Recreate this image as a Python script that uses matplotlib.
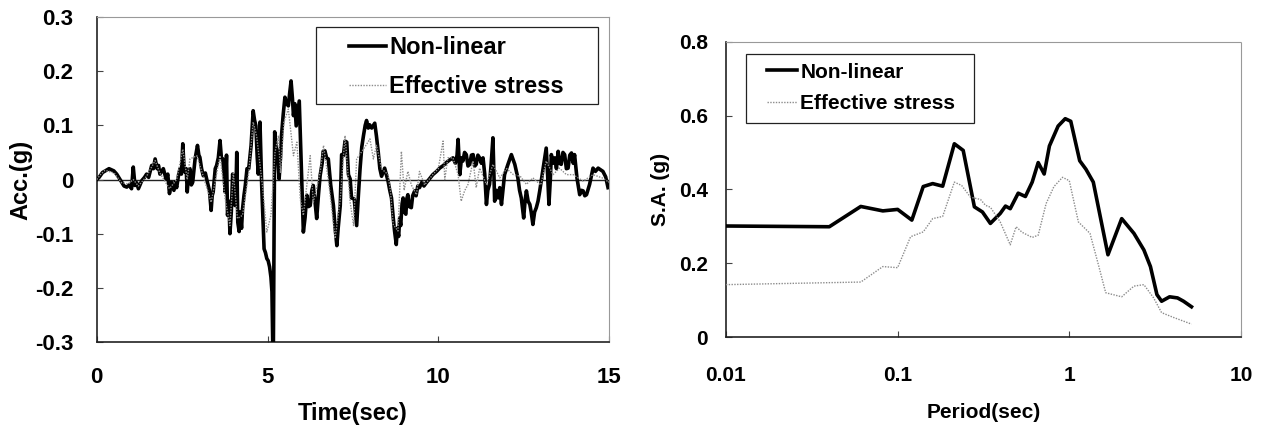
import matplotlib
matplotlib.use("Agg")
import matplotlib.pyplot as plt
from matplotlib.patches import Rectangle
from matplotlib.ticker import NullLocator

plt.rcParams["font.family"] = ["Liberation Sans", "DejaVu Sans"]
plt.rcParams["font.weight"] = "bold"

# acceleration time history, non-linear analysis (time in sec, acceleration in g)
time_nl = [0.00, 0.07, 0.17, 0.36, 0.50, 0.585, 0.73, 0.80, 0.88, 0.95,
           1.02, 1.07, 1.12, 1.17, 1.22, 1.32, 1.40, 1.46, 1.52, 1.61,
           1.66, 1.71, 1.77, 1.81, 1.85, 1.95, 2.03, 2.08, 2.13, 2.19,
           2.26, 2.30, 2.34, 2.40, 2.44, 2.48, 2.52, 2.55, 2.58, 2.62,
           2.65, 2.69, 2.73, 2.77, 2.81, 2.85, 2.88, 2.95, 2.99, 3.02,
           3.07, 3.12, 3.18, 3.24, 3.30, 3.35, 3.38, 3.41, 3.47, 3.51,
           3.56, 3.61, 3.65, 3.69, 3.73, 3.76, 3.80, 3.83, 3.87, 3.90,
           3.94, 3.98, 4.01, 4.05, 4.08, 4.10, 4.13, 4.17, 4.20, 4.24,
           4.27, 4.31, 4.35, 4.40, 4.45, 4.52, 4.58, 4.62, 4.66, 4.70,
           4.73, 4.78, 4.83, 4.90, 4.94, 4.98, 5.02, 5.06, 5.10, 5.13,
           5.16, 5.17, 5.21, 5.25, 5.28, 5.34, 5.38, 5.41, 5.46, 5.51,
           5.56, 5.61, 5.65, 5.69, 5.73, 5.76, 5.80, 5.84, 5.88, 5.93,
           5.98, 6.05, 6.10, 6.15, 6.20, 6.25, 6.30, 6.34, 6.39, 6.44,
           6.49, 6.54, 6.60, 6.63, 6.68, 6.73, 6.78, 6.85, 6.93, 6.98,
           7.03, 7.07, 7.13, 7.17, 7.22, 7.27, 7.32, 7.37, 7.42, 7.46,
           7.54, 7.61, 7.66, 7.71, 7.76, 7.81, 7.86, 7.90, 7.95, 7.99,
           8.05, 8.14, 8.19, 8.24, 8.29, 8.34, 8.43, 8.53, 8.58, 8.63,
           8.68, 8.72, 8.77, 8.80, 8.84, 8.87, 8.90, 8.94, 8.97, 9.01,
           9.05, 9.08, 9.11, 9.15, 9.21, 9.25, 9.31, 9.35, 9.40, 9.45,
           9.52, 9.58, 9.65, 9.75, 9.84, 9.95, 10.04, 10.15, 10.23, 10.33,
           10.43, 10.50, 10.55, 10.58, 10.63, 10.68, 10.72, 10.77, 10.82, 10.87,
           10.92, 10.97, 11.02, 11.07, 11.11, 11.16, 11.21, 11.26, 11.31, 11.36,
           11.41, 11.45, 11.50, 11.55, 11.60, 11.65, 11.70, 11.75, 11.80, 11.85,
           11.94, 12.04, 12.14, 12.24, 12.33, 12.38, 12.43, 12.50, 12.54, 12.58,
           12.63, 12.68, 12.72, 12.77, 12.82, 12.87, 12.92, 12.97, 13.07, 13.16,
           13.20, 13.24, 13.28, 13.31, 13.36, 13.41, 13.46, 13.51, 13.55, 13.60,
           13.65, 13.70, 13.75, 13.80, 13.85, 13.90, 13.95, 13.99, 14.06, 14.14,
           14.19, 14.24, 14.29, 14.34, 14.43, 14.53, 14.60, 14.68, 14.75, 14.82,
           14.90, 14.97]
acc_nl = [0.000, 0.004, 0.013, 0.020, 0.016, 0.010, -0.005, -0.012, -0.014, -0.010,
          -0.017, 0.023, -0.011, -0.006, -0.017, -0.002, 0.004, 0.010, 0.004, 0.026,
          0.020, 0.038, 0.020, 0.026, 0.010, 0.020, 0.001, 0.010, -0.026, -0.005,
          -0.020, -0.004, -0.015, 0.010, 0.020, 0.010, 0.066, 0.030, 0.014, 0.020,
          -0.023, 0.010, 0.020, -0.010, -0.005, 0.020, 0.038, 0.063, 0.045, 0.041,
          0.020, 0.007, 0.012, -0.005, -0.020, -0.057, -0.030, -0.023, 0.020, 0.026,
          0.040, 0.072, 0.040, 0.038, 0.010, -0.023, 0.045, -0.066, -0.040, -0.100,
          -0.060, 0.010, -0.020, -0.048, -0.010, 0.050, -0.079, -0.096, -0.060, -0.090,
          -0.054, -0.030, -0.011, 0.020, 0.020, 0.063, 0.127, 0.110, 0.099, 0.040,
          0.010, 0.106, -0.011, -0.128, -0.135, -0.146, -0.150, -0.161, -0.180, -0.207,
          -0.33, -0.33, 0.088, 0.060, 0.056, 0.001, 0.040, 0.081, 0.120, 0.152,
          0.140, 0.136, 0.160, 0.182, 0.150, 0.118, 0.140, 0.099, 0.120, 0.145,
          0.044, -0.097, -0.070, -0.029, -0.050, -0.048, -0.020, -0.011, -0.040, -0.072,
          -0.030, 0.007, 0.030, 0.052, 0.053, 0.040, 0.038, -0.010, -0.048, -0.090,
          -0.122, -0.089, -0.048, 0.046, 0.044, 0.071, 0.069, 0.009, 0.001, -0.034,
          -0.036, -0.085, -0.030, 0.020, 0.060, 0.081, 0.100, 0.109, 0.095, 0.101,
          0.095, 0.104, 0.080, 0.052, 0.020, 0.006, 0.021, -0.003, -0.020, -0.034,
          -0.070, -0.095, -0.120, -0.090, -0.105, -0.071, -0.085, -0.045, -0.034, -0.060,
          -0.064, -0.035, -0.028, -0.050, -0.052, -0.030, -0.021, -0.030, -0.012, -0.015,
          -0.005, -0.012, -0.006, 0.002, 0.009, 0.015, 0.021, 0.026, 0.031, 0.036,
          0.040, 0.030, 0.045, 0.074, 0.009, 0.040, 0.034, 0.050, 0.046, 0.025,
          0.028, 0.045, 0.046, 0.025, 0.028, 0.045, 0.040, 0.030, 0.040, 0.010,
          -0.046, -0.020, -0.009, 0.030, 0.077, -0.040, -0.020, -0.034, -0.015, -0.046,
          0.009, 0.028, 0.046, 0.028, 0.003, -0.020, -0.034, -0.071, -0.040, -0.021,
          -0.040, -0.046, -0.060, -0.083, -0.060, -0.052, -0.040, -0.021, 0.021, 0.058,
          0.010, -0.046, 0.000, 0.046, 0.030, 0.040, 0.020, 0.052, 0.030, 0.028,
          0.050, 0.046, 0.020, 0.021, 0.045, 0.049, 0.030, 0.046, 0.003, -0.028,
          -0.020, -0.021, -0.030, -0.028, -0.009, 0.021, 0.015, 0.021, 0.018, 0.015,
          0.005, -0.015]

# acceleration time history, effective stress analysis
time_es = [0.0, 0.11, 0.24, 0.51, 0.73, 0.92, 1.07, 1.22, 1.46, 1.71, 1.85, 2.13, 2.34, 2.52, 2.65,
           2.73, 2.93, 3.12, 3.35, 3.51, 3.61, 3.76, 3.90, 4.00, 4.12, 4.27, 4.45, 4.58, 4.68, 4.85,
           4.98, 5.10, 5.22, 5.32, 5.38, 5.48, 5.61, 5.76, 5.86, 5.96, 6.05, 6.25, 6.34, 6.54, 6.64,
           6.80, 6.98, 7.13, 7.27, 7.42, 7.52, 7.61, 7.81, 8.00, 8.10, 8.19, 8.34, 8.53, 8.60, 8.68,
           8.82, 8.92, 9.00, 9.11, 9.21, 9.36, 9.45, 9.60, 9.84, 10.00, 10.14, 10.19, 10.28, 10.43,
           10.58, 10.67, 10.77, 10.87, 11.02, 11.11, 11.21, 11.41, 11.60, 11.80, 12.00, 12.20, 12.40,
           12.58, 12.77, 13.00, 13.16, 13.36, 13.55, 13.75, 13.95, 14.24, 14.53, 14.80, 15.0]
acc_es = [0.0, 0.009, 0.017, 0.012, -0.006, -0.008, 0.0, -0.012, 0.006, 0.035, 0.012, -0.017, 0.0,
          0.056, 0.0, 0.038, 0.044, 0.006, -0.042, 0.010, 0.044, -0.036, -0.085, 0.012, -0.072,
          -0.066, 0.012, 0.106, 0.081, -0.010, -0.097, -0.066, 0.050, 0.081, 0.012, 0.106, 0.130,
          0.044, 0.069, -0.036, -0.066, 0.044, -0.042, 0.012, 0.063, -0.010, -0.109, -0.036, 0.081,
          -0.042, -0.085, 0.038, 0.056, 0.075, 0.038, 0.063, 0.020, 0.009, -0.021, -0.083, -0.095,
          0.052, -0.020, 0.015, -0.010, -0.028, 0.015, -0.010, 0.009, 0.020, 0.071, 0.0, 0.040,
          0.040, 0.009, -0.040, -0.021, -0.009, 0.034, -0.015, 0.021, -0.009, 0.028, 0.003, 0.020,
          0.009, 0.006, -0.009, 0.003, -0.010, 0.034, 0.009, 0.021, 0.009, 0.009, -0.003, 0.009,
          0.003, -0.005]

# response spectra (period in sec, spectral acceleration in g)
period_nl = [0.01, 0.040, 0.061, 0.082, 0.100, 0.121, 0.141, 0.160, 0.183, 0.214, 0.241, 0.280,
             0.312, 0.347, 0.396, 0.425, 0.453, 0.504, 0.555, 0.608, 0.659, 0.714, 0.766, 0.861,
             0.947, 1.02, 1.15, 1.25, 1.38, 1.68, 2.02, 2.38, 2.72, 2.97, 3.24, 3.45, 3.84, 4.27,
             4.63, 5.15]
sa_nl = [0.301, 0.299, 0.354, 0.342, 0.346, 0.317, 0.408, 0.416, 0.409, 0.524, 0.506, 0.353, 0.339,
         0.308, 0.335, 0.355, 0.348, 0.390, 0.381, 0.420, 0.473, 0.442, 0.518, 0.572, 0.592, 0.585,
         0.478, 0.455, 0.420, 0.223, 0.321, 0.281, 0.236, 0.191, 0.115, 0.097, 0.109, 0.106, 0.097,
         0.082]

period_es = [0.01, 0.061, 0.082, 0.100, 0.119, 0.141, 0.160, 0.183, 0.214, 0.236, 0.266, 0.304,
             0.325, 0.347, 0.396, 0.453, 0.490, 0.531, 0.608, 0.659, 0.733, 0.814, 0.913, 1.0, 1.13,
             1.32, 1.47, 1.63, 2.02, 2.38, 2.72, 3.10, 3.45, 4.05, 5.15]
sa_es = [0.142, 0.149, 0.191, 0.188, 0.272, 0.285, 0.321, 0.327, 0.420, 0.411, 0.379, 0.373, 0.357,
         0.352, 0.312, 0.250, 0.299, 0.284, 0.270, 0.276, 0.362, 0.408, 0.433, 0.424, 0.312, 0.281,
         0.200, 0.120, 0.109, 0.138, 0.142, 0.106, 0.066, 0.053, 0.035]

series_labels = ["Non-linear", "Effective stress"]

NL_STYLE = dict(color="black", linewidth=2.6, zorder=3)
ES_STYLE = dict(color="#8c8c8c", linewidth=1.0, linestyle=(0, (1, 1)), zorder=4)


def style_frame(ax):
    # plot-area border: solid left/bottom, faint dotted top/right
    for side in ("left", "bottom"):
        ax.spines[side].set_color("#222222")
        ax.spines[side].set_linewidth(1.2)
    for side in ("top", "right"):
        ax.spines[side].set_color("#999999")
        ax.spines[side].set_linewidth(0.8)
        ax.spines[side].set_linestyle((0, (1, 1)))
    ax.tick_params(direction="in", length=4, width=0.8, color="#444444")


def add_legend(ax, box, anchor, size, handle_len, spacing):
    # boxed legend: plain rectangle frame, entries placed inside it
    ax.add_patch(Rectangle(box[:2], box[2], box[3], transform=ax.transAxes, facecolor="white",
                           edgecolor="#222222", linewidth=0.9, zorder=4.5))
    leg = ax.legend(loc="upper left", bbox_to_anchor=anchor, fontsize=size, frameon=False,
                    handlelength=handle_len, handletextpad=0.15, borderpad=0,
                    borderaxespad=0, labelspacing=spacing)
    leg.set_zorder(5)
    return leg


fig = plt.figure(figsize=(12.61, 4.32), dpi=100)
ax1 = fig.add_axes([0.0767, 0.2083, 0.4063, 0.7523])
ax2 = fig.add_axes([0.5757, 0.2199, 0.4084, 0.6829])

# left: acceleration time history
ax1.axhline(0, color="#222222", linewidth=1.0, zorder=1)
ax1.plot(time_nl, acc_nl, label=series_labels[0], **NL_STYLE)
ax1.plot(time_es, acc_es, label=series_labels[1], **ES_STYLE)
ax1.set_xlim(0, 15)
ax1.set_ylim(-0.3, 0.3)
ax1.set_xticks([0, 5, 10, 15])
ax1.set_xticklabels(["0", "5", "10", "15"])
ax1.set_yticks([-0.3, -0.2, -0.1, 0, 0.1, 0.2, 0.3])
ax1.set_yticklabels(["-0.3", "-0.2", "-0.1", "0", "0.1", "0.2", "0.3"])
style_frame(ax1)
ax1.tick_params(axis="both", labelsize=16)
ax1.tick_params(axis="x", pad=18)
ax1.tick_params(axis="y", pad=17)
ax1.set_xlabel("Time(sec)", fontsize=17, fontweight="bold")
ax1.set_ylabel("Acc.(g)", fontsize=17, fontweight="bold")
ax1.xaxis.set_label_coords(0.5, -0.185)
ax1.yaxis.set_label_coords(-0.126, 0.5)
add_legend(ax1, (0.428, 0.732, 0.551, 0.237), (0.4925, 0.941), 17, 1.55, 0.67)

# right: response spectra
ax2.plot(period_nl, sa_nl, label=series_labels[0], **NL_STYLE)
ax2.plot(period_es, sa_es, label=series_labels[1], **ES_STYLE)
ax2.set_xscale("log")
ax2.set_xlim(0.01, 10)
ax2.set_ylim(0, 0.8)
ax2.set_xticks([0.01, 0.1, 1, 10])
ax2.set_xticklabels(["0.01", "0.1", "1", "10"])
ax2.xaxis.set_minor_locator(NullLocator())
ax2.set_yticks([0, 0.2, 0.4, 0.6, 0.8])
ax2.set_yticklabels(["0", "0.2", "0.4", "0.6", "0.8"])
style_frame(ax2)
ax2.tick_params(axis="both", labelsize=15)
ax2.tick_params(axis="x", pad=21)
ax2.tick_params(axis="y", pad=13)
ax2.set_xlabel("Period(sec)", fontsize=15, fontweight="bold")
ax2.set_ylabel("S.A. (g)", fontsize=15, fontweight="bold")
ax2.xaxis.set_label_coords(0.5, -0.225)
ax2.yaxis.set_label_coords(-0.109, 0.5)
add_legend(ax2, (0.039, 0.726, 0.443, 0.232), (0.0796, 0.930), 15, 1.45, 0.6)

fig.savefig("out.png", dpi=100)
